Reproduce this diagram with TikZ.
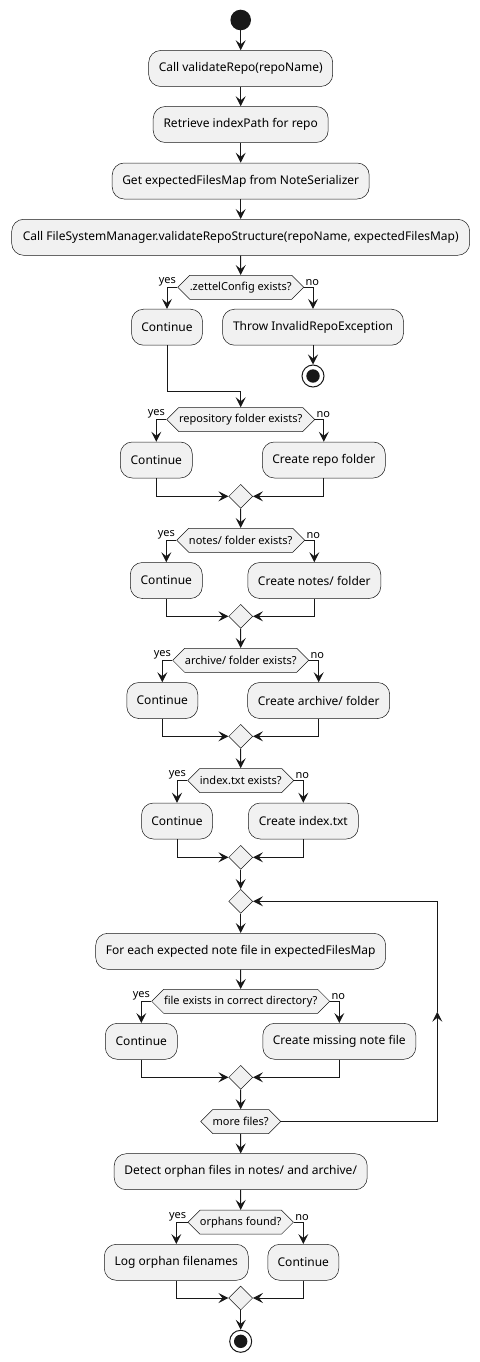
\documentclass[tikz,border=0pt]{standalone}
\usepackage{fontspec}
\setmainfont{Noto Sans}
\usetikzlibrary{arrows.meta, shapes.geometric, shapes.symbols}
\definecolor{actfill}{HTML}{F1F1F1}
\definecolor{actline}{HTML}{181818}

\begin{document}
\begin{tikzpicture}[x=1pt, y=-1pt,
  act/.style={draw=actline, fill=actfill, line width=0.5pt, rounded corners=12pt, minimum height=36pt, inner sep=0pt, font=\fontsize{12}{14}\selectfont},
  cond/.style={shape=signal, signal to=east and west, signal pointer angle=90, draw=actline, fill=actfill, line width=0.5pt, minimum height=24pt, inner sep=0pt, font=\fontsize{11}{13}\selectfont},
  merge/.style={diamond, draw=actline, fill=actfill, line width=0.5pt, minimum width=24pt, minimum height=24pt, inner sep=0pt},
  startnode/.style={circle, fill=actline, minimum size=20.6pt, inner sep=0pt},
  stopnode/.style={circle, draw=actline, fill=white, line width=1pt, minimum size=22pt, inner sep=0pt, path picture={\fill[actline] (path picture bounding box.center) circle (6.7pt);}},
  flow/.style={draw=actline, line width=1pt, -{Stealth[length=10pt, width=10pt, inset=4pt]}},
  link/.style={draw=actline, line width=1pt},
  lbl/.style={font=\fontsize{11}{13}\selectfont, inner sep=1pt}
]
  \useasboundingbox (0,0) rectangle (479,1362);

  % Setup
  \node[startnode] (start) at (240.7,20) {};
  \node[act, minimum width=184pt] (a1) at (240.7,68.5) {Call validateRepo(repoName)};
  \node[act, minimum width=175pt] (a2) at (240.7,124.5) {Retrieve indexPath for repo};
  \node[act, minimum width=257pt] (a3) at (240.7,181) {Get expectedFilesMap from NoteSerializer};
  \node[act, minimum width=458pt] (a4) at (240.7,237.3) {Call FileSystemManager.validateRepoStructure(repoName, expectedFilesMap)};

  % .zettelConfig check
  \node[cond, minimum width=126pt] (h1) at (240.7,287.3) {.zettelConfig exists?};
  \node[act, minimum width=71pt] (c1) at (167,327.2) {Continue};
  \node[act, minimum width=181pt] (t1) at (313,327.2) {Throw InvalidRepoException};
  \node[stopnode] (stop1) at (313,376) {};
  \coordinate (j1) at (240.7,391.7);

  % repository folder
  \node[cond, minimum width=148pt] (h2) at (240.7,419.5) {repository folder exists?};
  \node[act, minimum width=72pt] (c2) at (156.3,460) {Continue};
  \node[act, minimum width=123pt] (r2) at (323.8,460) {Create repo folder};
  \node[merge] (m2) at (240.7,496.3) {};

  % notes/ folder
  \node[cond, minimum width=128pt] (h3) at (240.7,540.3) {notes/ folder exists?};
  \node[act, minimum width=72pt] (c3) at (166.3,580.5) {Continue};
  \node[act, minimum width=133pt] (r3) at (314.3,580.5) {Create notes/ folder};
  \node[merge] (m3) at (240.7,616.3) {};

  % archive/ folder
  \node[cond, minimum width=136pt] (h4) at (240.7,660.3) {archive/ folder exists?};
  \node[act, minimum width=71pt] (c4) at (162.3,700.5) {Continue};
  \node[act, minimum width=142pt] (r4) at (318.7,700.5) {Create archive/ folder};
  \node[merge] (m4) at (240.7,736.3) {};

  % index.txt
  \node[cond, minimum width=106pt] (h5) at (240.7,780.5) {index.txt exists?};
  \node[act, minimum width=71pt] (c5) at (177,821) {Continue};
  \node[act, minimum width=110pt] (r5) at (303.3,821) {Create index.txt};
  \node[merge] (m5) at (240.7,857.3) {};

  % loop over expected note files
  \node[merge] (lm) at (240.7,901.3) {};
  \node[act, minimum width=290pt] (a5) at (240.7,951.3) {For each expected note file in expectedFilesMap};
  \node[cond, minimum width=178pt] (h6) at (240.7,1001.3) {file exists in correct directory?};
  \node[act, minimum width=72pt] (c6) at (141.3,1041.3) {Continue};
  \node[act, minimum width=153pt] (r6) at (339.3,1041.3) {Create missing note file};
  \node[merge] (m6) at (240.7,1077.3) {};
  \node[cond, minimum width=80pt] (h7) at (240.7,1121.5) {more files?};
  \coordinate (back) at (437.3,1011.7);

  % orphans
  \node[act, minimum width=253pt] (a6) at (240.7,1171.7) {Detect orphan files in notes/ and archive/};
  \node[cond, minimum width=104pt] (h8) at (240.7,1222.2) {orphans found?};
  \node[act, minimum width=144pt] (l8) at (176.3,1262.3) {Log orphan filenames};
  \node[act, minimum width=71pt] (c8) at (303.3,1262.3) {Continue};
  \node[merge] (m8) at (240.7,1298) {};
  \node[stopnode] (stop2) at (240.7,1341.3) {};

  % Connectors
  \draw[flow] (start) -- (a1);
  \draw[flow] (a1) -- (a2);
  \draw[flow] (a2) -- (a3);
  \draw[flow] (a3) -- (a4);
  \draw[flow] (a4) -- (h1);
  \draw[flow] (h1.west) -| node[lbl, pos=0, anchor=south east] {yes} (c1.north);
  \draw[flow] (h1.east) -| node[lbl, pos=0, anchor=south west] {no} (t1.north);
  \draw[flow] (t1) -- (stop1);
  \draw[link] (c1.south) |- (j1);
  \draw[flow] (j1) -- (h2.north);

  \draw[flow] (h2.west) -| node[lbl, pos=0, anchor=south east] {yes} (c2.north);
  \draw[flow] (h2.east) -| node[lbl, pos=0, anchor=south west] {no} (r2.north);
  \draw[flow] (c2.south) |- (m2.west);
  \draw[flow] (r2.south) |- (m2.east);
  \draw[flow] (m2) -- (h3);

  \draw[flow] (h3.west) -| node[lbl, pos=0, anchor=south east] {yes} (c3.north);
  \draw[flow] (h3.east) -| node[lbl, pos=0, anchor=south west] {no} (r3.north);
  \draw[flow] (c3.south) |- (m3.west);
  \draw[flow] (r3.south) |- (m3.east);
  \draw[flow] (m3) -- (h4);

  \draw[flow] (h4.west) -| node[lbl, pos=0, anchor=south east] {yes} (c4.north);
  \draw[flow] (h4.east) -| node[lbl, pos=0, anchor=south west] {no} (r4.north);
  \draw[flow] (c4.south) |- (m4.west);
  \draw[flow] (r4.south) |- (m4.east);
  \draw[flow] (m4) -- (h5);

  \draw[flow] (h5.west) -| node[lbl, pos=0, anchor=south east] {yes} (c5.north);
  \draw[flow] (h5.east) -| node[lbl, pos=0, anchor=south west] {no} (r5.north);
  \draw[flow] (c5.south) |- (m5.west);
  \draw[flow] (r5.south) |- (m5.east);
  \draw[flow] (m5) -- (lm);

  \draw[flow] (lm) -- (a5);
  \draw[flow] (a5) -- (h6);
  \draw[flow] (h6.west) -| node[lbl, pos=0, anchor=south east] {yes} (c6.north);
  \draw[flow] (h6.east) -| node[lbl, pos=0, anchor=south west] {no} (r6.north);
  \draw[flow] (c6.south) |- (m6.west);
  \draw[flow] (r6.south) |- (m6.east);
  \draw[flow] (m6) -- (h7);
  \draw[flow] (h7.east) -| (back);
  \draw[flow] (back) |- (lm.east);

  \draw[flow] (h7) -- (a6);
  \draw[flow] (a6) -- (h8);
  \draw[flow] (h8.west) -| node[lbl, pos=0, anchor=south east] {yes} (l8.north);
  \draw[flow] (h8.east) -| node[lbl, pos=0, anchor=south west] {no} (c8.north);
  \draw[flow] (l8.south) |- (m8.west);
  \draw[flow] (c8.south) |- (m8.east);
  \draw[flow] (m8) -- (stop2);
\end{tikzpicture}
\end{document}
